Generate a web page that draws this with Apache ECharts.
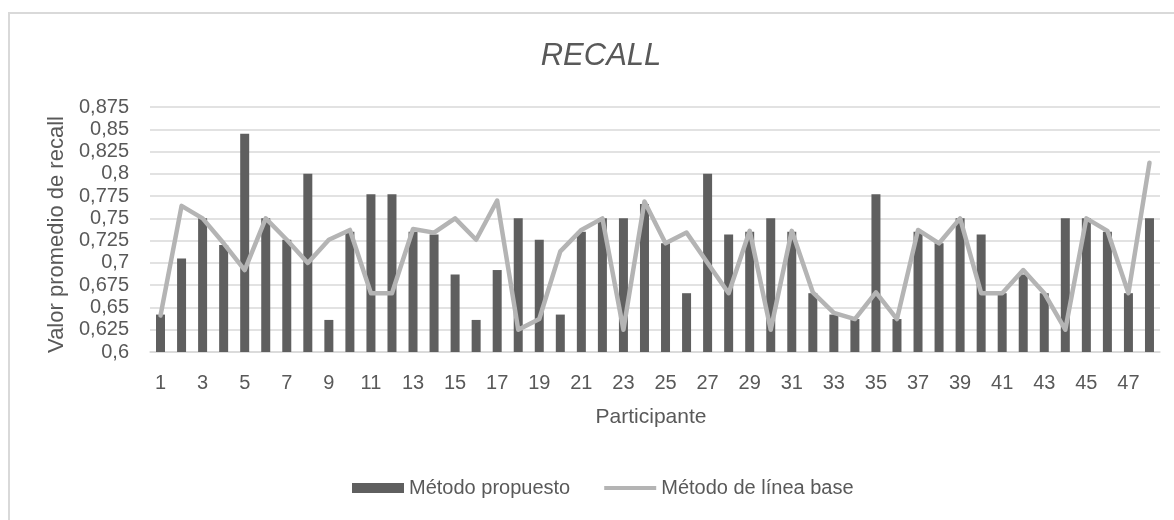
<!DOCTYPE html>
<html>
<head>
<meta charset="utf-8">
<title>RECALL</title>
<script src="https://cdn.jsdelivr.net/npm/echarts@6/dist/echarts.min.js"></script>
<style>
  html, body { margin: 0; padding: 0; background: #ffffff; }
  #frame {
    position: absolute; left: 8px; top: 12px; width: 1166px; height: 508px;
    border-left: 2px solid #d9d9d9; border-top: 2px solid #d9d9d9; box-sizing: border-box;
  }
  #chart { position: absolute; left: 0; top: 0; width: 1174px; height: 520px; }
</style>
</head>
<body>
<div id="frame"></div>
<div id="chart"></div>
<script>
// Participants 1..48
const participants = Array.from({ length: 48 }, (_, i) => String(i + 1));

// Average recall per participant, proposed method (bars)
const metodoPropuesto = [
  0.642, 0.705, 0.75, 0.72, 0.845, 0.75, 0.726, 0.8, 0.636, 0.735, 0.777, 0.777,
  0.735, 0.732, 0.687, 0.636, 0.692, 0.75, 0.726, 0.642, 0.735, 0.75, 0.75, 0.766,
  0.722, 0.666, 0.8, 0.732, 0.735, 0.75, 0.735, 0.666, 0.642, 0.637, 0.777, 0.637,
  0.735, 0.722, 0.75, 0.732, 0.666, 0.687, 0.666, 0.75, 0.75, 0.735, 0.666, 0.75
];

// Average recall per participant, baseline method (line)
const metodoLineaBase = [
  0.641, 0.764, 0.75, 0.722, 0.692, 0.75, 0.726, 0.7, 0.726, 0.737, 0.666, 0.666,
  0.738, 0.734, 0.75, 0.726, 0.77, 0.625, 0.637, 0.713, 0.737, 0.75, 0.625, 0.769,
  0.722, 0.734, 0.7, 0.666, 0.736, 0.625, 0.736, 0.667, 0.644, 0.637, 0.667, 0.637,
  0.737, 0.722, 0.75, 0.666, 0.666, 0.692, 0.666, 0.625, 0.75, 0.736, 0.666, 0.8125
];

const yMin = 0.6, yMax = 0.875, yStep = 0.025;

const FONT = '"Liberation Sans", Arial, sans-serif';
const TEXT = '#595959';
const GRID = '#d9d9d9';
const BAR = '#5f5f5f';
const LINE = '#b4b4b4';

const chart = echarts.init(document.getElementById('chart'), null, { renderer: 'canvas' });

chart.setOption({
  animation: false,
  backgroundColor: 'transparent',
  textStyle: { fontFamily: FONT, color: TEXT },
  title: {
    text: 'RECALL',
    left: 596,
    textAlign: 'center',
    top: 36,
    textStyle: { fontFamily: FONT, fontSize: 31, fontStyle: 'italic', fontWeight: 'normal', color: TEXT }
  },
  legend: {
    left: 352,
    top: 478,
    padding: 0,
    itemGap: 34,
    itemWidth: 52,
    itemHeight: 10,
    textStyle: { fontFamily: FONT, fontSize: 20, color: TEXT },
    data: [
      { name: 'Método propuesto', icon: 'rect' },
      { name: 'Método de línea base', icon: 'path://M0,0 L52,0 L52,4 L0,4 Z' }
    ]
  },
  grid: { left: 150, right: 14, top: 107, bottom: 168, containLabel: false },
  xAxis: {
    type: 'category',
    data: participants,
    name: 'Participante',
    nameLocation: 'middle',
    nameGap: 55,
    nameTextStyle: { fontFamily: FONT, fontSize: 21, color: TEXT, padding: [0, 8, 0, 0] },
    axisLine: { lineStyle: { color: GRID, width: 1.5 } },
    axisTick: { show: false },
    axisLabel: { interval: 1, margin: 21, fontFamily: FONT, fontSize: 20, color: TEXT }
  },
  yAxis: {
    type: 'value',
    min: yMin,
    max: yMax,
    interval: yStep,
    name: 'Valor promedio de recall',
    nameLocation: 'middle',
    nameGap: 82,
    nameTextStyle: { fontFamily: FONT, fontSize: 22, color: TEXT, padding: [0, 10, 0, 0] },
    axisLine: { show: false },
    axisTick: { show: false },
    splitLine: { lineStyle: { color: GRID, width: 1.5 } },
    axisLabel: {
      margin: 21,
      fontFamily: FONT,
      fontSize: 20,
      color: TEXT,
      formatter: v => String(Math.round(v * 1000) / 1000).replace('.', ',')
    }
  },
  series: [
    {
      name: 'Método propuesto',
      type: 'bar',
      data: metodoPropuesto,
      barWidth: 9,
      itemStyle: { color: BAR }
    },
    {
      name: 'Método de línea base',
      type: 'line',
      data: metodoLineaBase,
      symbol: 'none',
      lineStyle: { color: LINE, width: 4.5, cap: 'round', join: 'round' },
      itemStyle: { color: LINE }
    }
  ]
});
</script>
</body>
</html>
